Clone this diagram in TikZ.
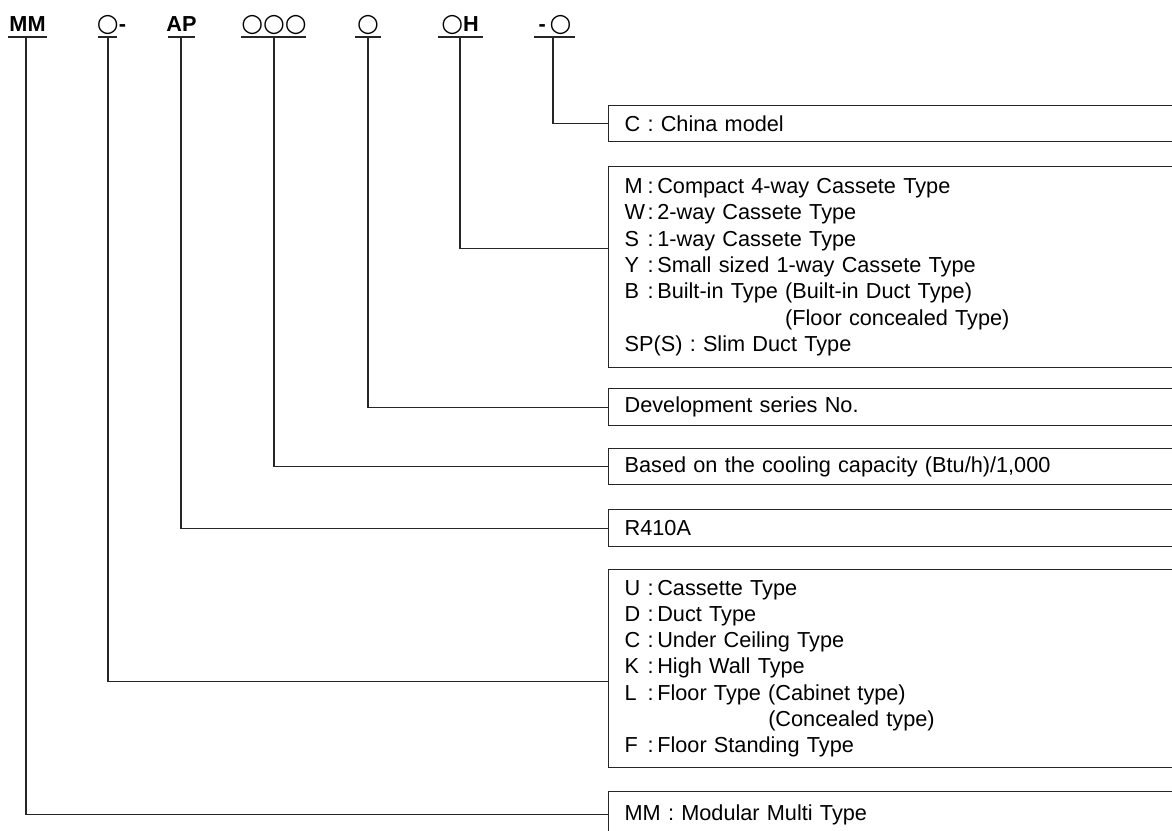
\documentclass[tikz,border=0pt]{standalone}
\usepackage{fontspec}
\setmainfont{Liberation Sans}
\newfontfamily\symfont{DejaVu Sans}
\usetikzlibrary{positioning,calc}
\newcommand{\oc}{{\symfont\fontsize{25}{25}\selectfont ○}}
\newcommand{\key}[1]{\makebox[23pt][l]{#1}:\,}
\tikzset{
	lbl/.style={anchor=base,inner sep=0pt,font=\bfseries\fontsize{21.7}{26}\selectfont},
	uline/.style={draw=black!85,line width=1.3pt},
	desc/.style={draw=black!85,line width=1.3pt,anchor=north west,inner xsep=16pt,inner ysep=0pt,
		text width=590pt,align=left,font=\fontsize{21.7}{26.3}\selectfont},
	link/.style={draw=black!85,line width=1.2pt},
}
\begin{document}
\begin{tikzpicture}[x=1pt,y=-1pt]
	\useasboundingbox (0,0) rectangle (1172,830);
	\clip (0,0) rectangle (1172,830);
	% code letters
	\node[lbl] (tMM) at (27.5,31) {MM};
	\node[lbl] (tTyp) at (111.5,31) {\oc-};
	\node[lbl] (tRef) at (181.5,31) {AP};
	\node[lbl] (tCap) at (274,31) {\oc\oc\oc};
	\node[lbl] (tSer) at (368,31) {\oc};
	\node[lbl] (tFrm) at (460,31) {\oc H};
	\node[lbl] (tChn) at (555,31) {-\,\oc};
	\foreach \nm/\a/\b/\c in {MM/8/47/26,Typ/98/117/108,Ref/168/195/181,Cap/241/306/274,
		Ser/355/381/368,Frm/438/483/460,Chn/534/575/553}{
		\draw[uline] (\a,37) -- (\b,37);
		\coordinate (u\nm) at (\c,37);
	}
	% description boxes
	\node[desc,minimum height=36pt] (bChn) at (608,105) {C : China model};
	\node[desc,minimum height=201pt] (bFrm) at (608,166) {\key{M}Compact 4-way Cassete Type\\
		\key{W}2-way Cassete Type\\
		\key{S}1-way Cassete Type\\
		\key{Y}Small sized 1-way Cassete Type\\
		\key{B}Built-in Type (Built-in Duct Type)\\
		\hphantom{\key{B}Built-in Type }(Floor concealed Type)\\
		SP(S) : Slim Duct Type};
	\node[desc,minimum height=37pt] (bSer) at (608,388) {Development series No.};
	\node[desc,minimum height=36pt] (bCap) at (608,448) {Based on the cooling capacity (Btu/h)/1,000};
	\node[desc,minimum height=37pt] (bRef) at (608,509) {R410A};
	\node[desc,minimum height=198pt] (bTyp) at (608,569) {\key{U}Cassette Type\\
		\key{D}Duct Type\\
		\key{C}Under Ceiling Type\\
		\key{K}High Wall Type\\
		\key{L}Floor Type (Cabinet type)\\
		\hphantom{\key{L}Floor Type }(Concealed type)\\
		\key{F}Floor Standing Type};
	\node[desc,minimum height=46pt] (bMM) at (608,791) {MM : Modular Multi Type};
	% leaders
	\draw[link] (uChn) |- (bChn.west);
	\draw[link] (uFrm) |- ([yshift=19pt]bFrm.west);
	\draw[link] (uSer) |- (bSer.west);
	\draw[link] (uCap) |- (bCap.west);
	\draw[link] (uRef) |- (bRef.west);
	\draw[link] (uTyp) |- ([yshift=-13pt]bTyp.west);
	\draw[link] (uMM) |- (bMM.west);
\end{tikzpicture}
\end{document}
